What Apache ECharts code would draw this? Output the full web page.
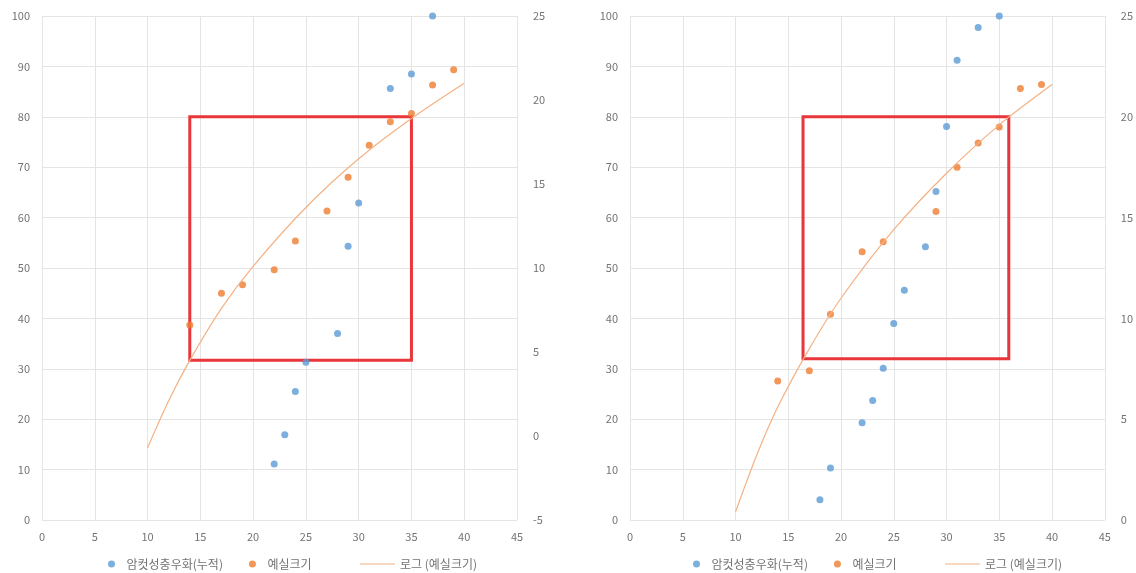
<!DOCTYPE html>
<html>
<head>
<meta charset="utf-8">
<script src="https://cdn.jsdelivr.net/npm/echarts@6/dist/echarts.min.js"></script>
<style>
  html, body { margin: 0; padding: 0; background: #fff; }
  #main { width: 1136px; height: 573px; }
</style>
</head>
<body>
<div id="main"></div>
<script>
// series names
var names = ['암컷성충우화(누적)', '예실크기', '로그 (예실크기)'];

// left chart
var leftFemaleX = [22, 23, 24, 25, 28, 29, 30, 33, 35, 37];
var leftFemaleY = [11.1, 16.9, 25.5, 31.3, 37.0, 54.3, 62.9, 85.6, 88.5, 100];
var leftSizeX = [14, 17, 19, 22, 24, 27, 29, 31, 33, 35, 37, 39];
var leftSizeY = [6.6, 8.5, 9.0, 9.9, 11.6, 13.4, 15.4, 17.3, 18.7, 19.2, 20.9, 21.8];
var leftTrendX = [10, 12, 14, 17, 20, 25, 30, 35, 40];
var leftTrendY = [-0.7, 2.1, 4.5, 7.6, 10.1, 13.6, 16.5, 18.9, 21.0];
var leftBox = [14, 31.7, 35, 80];   // x1, y1, x2, y2 (left axis)

// right chart
var rightFemaleX = [18, 19, 22, 23, 24, 25, 26, 28, 29, 30, 31, 33, 35];
var rightFemaleY = [4.0, 10.3, 19.3, 23.7, 30.1, 39.0, 45.6, 54.2, 65.2, 78.1, 91.2, 97.7, 100];
var rightSizeX = [14, 17, 19, 22, 24, 29, 31, 33, 35, 37, 39];
var rightSizeY = [6.9, 7.4, 10.2, 13.3, 13.8, 15.3, 17.5, 18.7, 19.5, 21.4, 21.6];
var rightTrendX = [10, 12, 14, 17, 20, 25, 30, 35, 40];
var rightTrendY = [0.4, 3.2, 5.6, 8.5, 11.0, 14.4, 17.2, 19.6, 21.6];
var rightBox = [16.4, 32, 35.9, 80];

function pairs(xs, ys) {
    var out = [];
    for (var i = 0; i < xs.length; i++) out.push([xs[i], ys[i]]);
    return out;
}

var labelColor = '#737373';
var gridColor = '#e4e4e4';
var font = '"Noto Sans CJK KR", "Noto Sans", sans-serif';

function xAxisOf(g) {
    return {
        type: 'value', gridIndex: g, min: 0, max: 45, interval: 5,
        axisLine: { show: false }, axisTick: { show: false },
        axisLabel: { color: labelColor, fontSize: 11, margin: 11, fontFamily: font },
        splitLine: { show: true, lineStyle: { color: gridColor } }
    };
}
function leftY(g) {
    return {
        type: 'value', gridIndex: g, min: 0, max: 100, interval: 10,
        axisLine: { show: false }, axisTick: { show: false },
        axisLabel: { color: labelColor, fontSize: 11, margin: 12, fontFamily: font },
        splitLine: { show: true, lineStyle: { color: gridColor } }
    };
}
function rightY(g, min) {
    return {
        type: 'value', gridIndex: g, position: 'right', min: min, max: 25, interval: 5,
        axisLine: { show: false }, axisTick: { show: false },
        axisLabel: { color: labelColor, fontSize: 11, margin: 16, fontFamily: font },
        splitLine: { show: false }
    };
}
function box(b) {
    return {
        silent: true,
        itemStyle: { color: 'rgba(0,0,0,0)', borderColor: '#e8363a', borderWidth: 3 },
        data: [[{ coord: [b[0], b[3]] }, { coord: [b[2], b[1]] }]]
    };
}
function legendPair(left) {
    return {
        left: left, top: 553, itemWidth: 20, itemHeight: 7, itemGap: 26,
        textStyle: { color: labelColor, fontSize: 12, fontFamily: font },
        data: [{ name: names[0], icon: 'circle' }, { name: names[1], icon: 'circle' }]
    };
}
function legendLine(left) {
    return {
        left: left, top: 553, itemWidth: 35, itemHeight: 7,
        textStyle: { color: labelColor, fontSize: 12, fontFamily: font },
        data: [{ name: names[2], icon: 'path://M0,0L35,0L35,1L0,1Z' }]
    };
}

var option = {
    backgroundColor: '#fff',
    animation: false,
    grid: [
        { left: 42, right: 619, top: 16, bottom: 53 },
        { left: 630, right: 30, top: 16, bottom: 53 }
    ],
    xAxis: [xAxisOf(0), xAxisOf(1)],
    yAxis: [leftY(0), rightY(0, -5), leftY(1), rightY(1, 0)],
    legend: [legendPair(103), legendLine(355), legendPair(688), legendLine(940)],
    series: [
        {
            name: names[2], type: 'line', xAxisIndex: 0, yAxisIndex: 1, smooth: 0.3,
            symbol: 'none', lineStyle: { color: '#f4b183', width: 1.2 }, itemStyle: { color: '#f4b183' },
            data: pairs(leftTrendX, leftTrendY)
        },
        {
            name: names[0], type: 'scatter', xAxisIndex: 0, yAxisIndex: 0, symbolSize: 7,
            itemStyle: { color: '#5b9bd5' }, data: pairs(leftFemaleX, leftFemaleY),
            markArea: box(leftBox)
        },
        {
            name: names[1], type: 'scatter', xAxisIndex: 0, yAxisIndex: 1, symbolSize: 7,
            itemStyle: { color: '#ed7d31' }, data: pairs(leftSizeX, leftSizeY)
        },
        {
            name: names[2], type: 'line', xAxisIndex: 1, yAxisIndex: 3, smooth: 0.3,
            symbol: 'none', lineStyle: { color: '#f4b183', width: 1.2 }, itemStyle: { color: '#f4b183' },
            data: pairs(rightTrendX, rightTrendY)
        },
        {
            name: names[0], type: 'scatter', xAxisIndex: 1, yAxisIndex: 2, symbolSize: 7,
            itemStyle: { color: '#5b9bd5' }, data: pairs(rightFemaleX, rightFemaleY),
            markArea: box(rightBox)
        },
        {
            name: names[1], type: 'scatter', xAxisIndex: 1, yAxisIndex: 3, symbolSize: 7,
            itemStyle: { color: '#ed7d31' }, data: pairs(rightSizeX, rightSizeY)
        }
    ]
};

var myChart = echarts.init(document.getElementById('main'));
myChart.setOption(option);
</script>
</body>
</html>
